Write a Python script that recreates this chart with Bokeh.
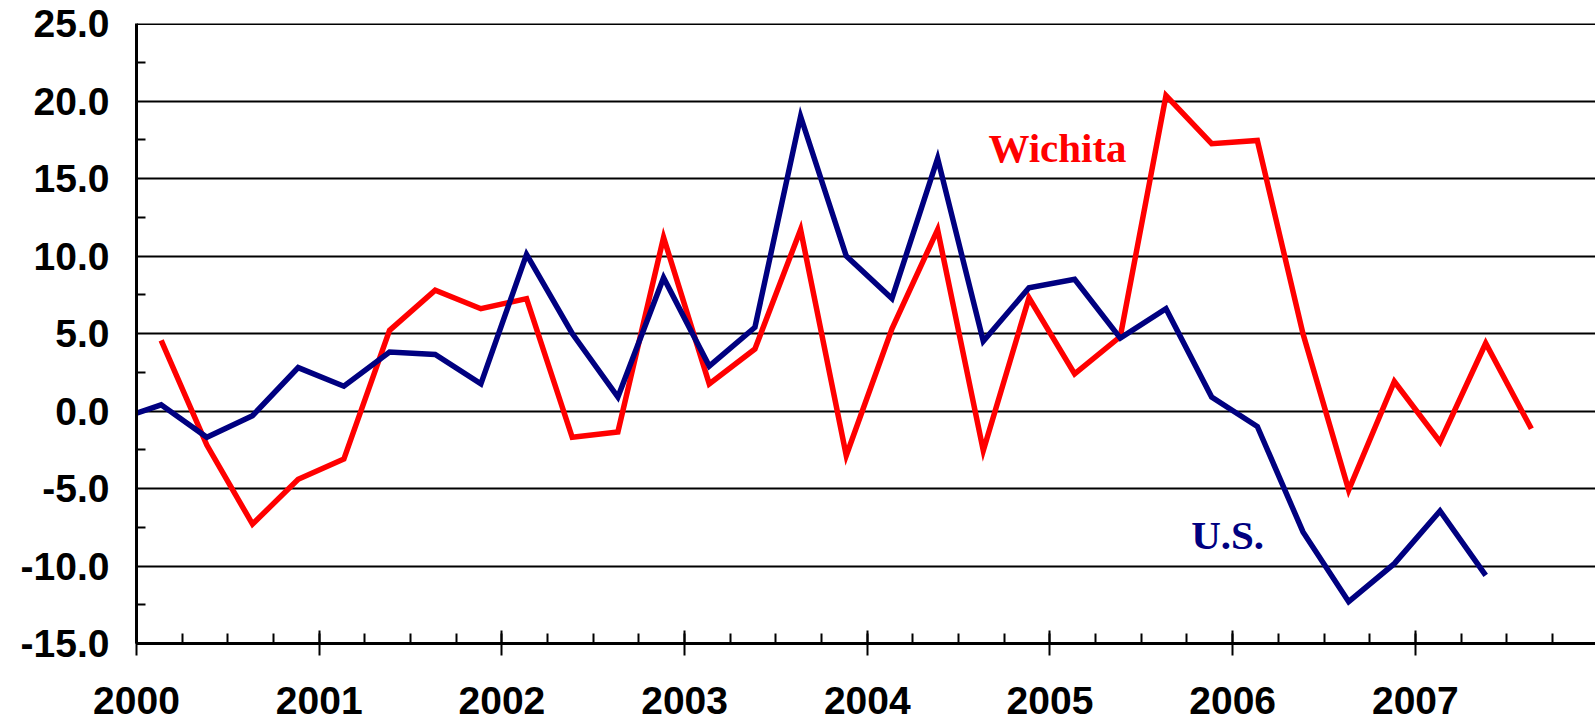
from bokeh.plotting import figure
from bokeh.models import Range1d, FixedTicker, NumeralTickFormatter, Label, Span
from bokeh.embed import file_html
from bokeh.resources import INLINE

# Quarterly percent changes, first quarter of 2000 onwards
years = [2000, 2001, 2002, 2003, 2004, 2005, 2006, 2007]
us_start_quarter = 1999.875  # the U.S. series begins one quarter earlier (clipped at 2000)
us_values = [-0.6,
             0.4, -1.7, -0.3, 2.8,
             1.6, 3.8, 3.65, 1.75,
             10.1, 5.0, 0.9, 8.6,
             2.9, 5.4, 19.0, 10.0,
             7.25, 16.3, 4.5, 7.95,
             8.5, 4.7, 6.6, 0.9,
             -1.0, -7.8, -12.3, -9.85,
             -6.45, -10.6]
wichita_start_quarter = 2000.125
wichita_values = [4.55, -2.2, -7.3, -4.4,
                  -3.1, 5.2, 7.8, 6.6,
                  7.25, -1.7, -1.35, 11.2,
                  1.75, 4.0, 11.7, -2.87,
                  5.3, 11.7, -2.55, 7.3,
                  2.4, 4.8, 20.35, 17.25,
                  17.45, 4.98, -5.1, 1.9,
                  -2.0, 4.37, -1.15]
y_ticks = [-15, -10, -5, 0, 5, 10, 15, 20, 25]
series_names = ["Wichita", "U.S."]

us_x = [us_start_quarter + 0.01 + 0.25 * i for i in range(len(us_values))]
wi_x = [wichita_start_quarter + 0.01 + 0.25 * i for i in range(len(wichita_values))]

p = figure(frame_width=1459, frame_height=620,
           min_border_left=136, min_border_right=0, min_border_top=23, min_border_bottom=78,
           x_range=Range1d(2000, 2007.986), y_range=Range1d(-15, 25),
           output_backend="svg", toolbar_location=None)
p.outline_line_color = None
p.background_fill_color = "white"
p.border_fill_color = "white"

p.line(wi_x, wichita_values, line_color="#FF0000", line_width=5.5, line_join="miter")
p.line(us_x, us_values, line_color="#000080", line_width=5.5, line_join="miter")

# x axis
xa = p.xaxis[0]
xa.ticker = FixedTicker(ticks=years, minor_ticks=[y + q * 0.25 for y in years + [2008] for q in range(4)])
xa.axis_line_width = 3
xa.axis_line_color = "black"
xa.major_tick_in = 13
xa.major_tick_out = 12
xa.major_tick_line_width = 2
xa.minor_tick_in = 10
xa.minor_tick_out = 0
xa.minor_tick_line_width = 2
xa.major_label_text_font = "Liberation Sans"
xa.major_label_text_font_style = "bold"
xa.major_label_text_font_size = "39px"
xa.major_label_text_color = "black"
xa.major_label_standoff = 31

# y axis
ya = p.yaxis[0]
ya.ticker = FixedTicker(ticks=y_ticks, minor_ticks=[t + 2.5 for t in y_ticks[:-1]])
ya.formatter = NumeralTickFormatter(format="0.0")
ya.axis_line_width = 3
ya.axis_line_color = "black"
ya.major_tick_in = 0
ya.major_tick_out = 0
ya.minor_tick_in = 9
ya.minor_tick_out = 0
ya.minor_tick_line_width = 2
ya.major_label_text_font = "Liberation Sans"
ya.major_label_text_font_style = "bold"
ya.major_label_text_font_size = "39px"
ya.major_label_text_color = "black"
ya.major_label_standoff = 27

p.xgrid.grid_line_color = None
p.ygrid.grid_line_color = "black"
p.ygrid.grid_line_width = 2

p.add_layout(Span(location=25, dimension="width", line_color="black", line_width=3))

p.add_layout(Label(x=2004.663, y=16.95, text=series_names[0], text_color="#FF0000",
                   text_font="Liberation Serif", text_font_style="bold", text_font_size="41px",
                   text_align="left", text_baseline="alphabetic"))
p.add_layout(Label(x=2005.773, y=-7.99, text=series_names[1], text_color="#000080",
                   text_font="Liberation Serif", text_font_style="bold", text_font_size="41px",
                   text_align="left", text_baseline="alphabetic"))

open("out.html", "w").write(file_html(p, INLINE))
